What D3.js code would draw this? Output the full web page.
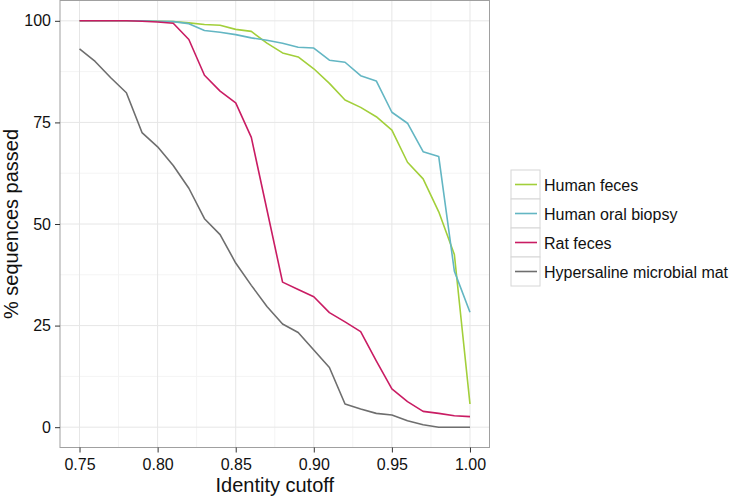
<!DOCTYPE html>
<html>
<head>
<meta charset="utf-8">
<script src="https://cdn.jsdelivr.net/npm/d3@7"></script>
<style>
  body { margin: 0; background: #fff; }
  text { font-family: "Liberation Sans", Arial, sans-serif; }
</style>
</head>
<body>
<svg id="chart" width="735" height="497"></svg>
<script>
// identity cutoffs 0.75 .. 1.00
const cutoffs = [0.75, 0.76, 0.77, 0.78, 0.79, 0.80, 0.81, 0.82, 0.83, 0.84, 0.85, 0.86, 0.87,
  0.88, 0.89, 0.90, 0.91, 0.92, 0.93, 0.94, 0.95, 0.96, 0.97, 0.98, 0.99, 1.00];

const human_feces = [100, 100, 100, 100, 100, 99.9, 99.8, 99.5, 99.1, 98.9, 97.9, 97.4, 94.5,
  92.1, 91.1, 88.2, 84.6, 80.5, 78.7, 76.4, 73.1, 65.2, 61.1, 53.0, 42.5, 5.7];
const human_oral = [100, 100, 100, 100, 100, 99.9, 99.8, 99.3, 97.6, 97.2, 96.6, 95.8, 95.2,
  94.5, 93.5, 93.3, 90.3, 89.8, 86.5, 85.2, 77.5, 74.8, 67.8, 66.6, 38.4, 28.3];
const rat_feces = [100, 100, 100, 100, 99.9, 99.7, 99.4, 95.4, 86.6, 82.7, 79.8, 71.3, 53.5,
  35.7, 33.9, 32.1, 28.2, 25.9, 23.5, 16.3, 9.4, 6.3, 3.9, 3.4, 2.8, 2.6];
const hypersaline = [93.1, 90.0, 86.0, 82.3, 72.5, 69.0, 64.4, 58.8, 51.3, 47.4, 40.4, 34.9, 29.7,
  25.4, 23.3, 19.0, 14.7, 5.7, 4.5, 3.4, 3.0, 1.6, 0.6, 0, 0, 0];

const series_names = ["Human feces", "Human oral biopsy", "Rat feces", "Hypersaline microbial mat"];
const series_values = [human_feces, human_oral, rat_feces, hypersaline];
const series_colors = ["#a2cf3a", "#63b6c3", "#c91c63", "#6e6e6e"];

const x_ticks = [0.75, 0.80, 0.85, 0.90, 0.95, 1.00];
const y_ticks = [0, 25, 50, 75, 100];

const svg = d3.select("svg#chart");
const panel = { left: 60, right: 489.5, top: 0.5, bottom: 447.5 };

// ggplot style expansion of 5%
const x = d3.scaleLinear().domain([0.7375, 1.0125]).range([panel.left, panel.right]);
const y = d3.scaleLinear().domain([-5, 105]).range([panel.bottom, panel.top]);

const grid = svg.append("g");
// minor grid
const x_minor = d3.range(0.775, 1.0, 0.05);
const y_minor = [12.5, 37.5, 62.5, 87.5];
grid.selectAll("line.xminor").data(x_minor).join("line")
  .attr("x1", d => x(d)).attr("x2", d => x(d))
  .attr("y1", panel.top).attr("y2", panel.bottom)
  .attr("stroke", "#f4f4f4").attr("stroke-width", 1);
grid.selectAll("line.yminor").data(y_minor).join("line")
  .attr("x1", panel.left).attr("x2", panel.right)
  .attr("y1", d => y(d)).attr("y2", d => y(d))
  .attr("stroke", "#f4f4f4").attr("stroke-width", 1);
// major grid
grid.selectAll("line.xmajor").data(x_ticks).join("line")
  .attr("x1", d => x(d)).attr("x2", d => x(d))
  .attr("y1", panel.top).attr("y2", panel.bottom)
  .attr("stroke", "#e6e6e6").attr("stroke-width", 1);
grid.selectAll("line.ymajor").data(y_ticks).join("line")
  .attr("x1", panel.left).attr("x2", panel.right)
  .attr("y1", d => y(d)).attr("y2", d => y(d))
  .attr("stroke", "#e6e6e6").attr("stroke-width", 1);

// lines
const line = d3.line()
  .x((d, i) => x(cutoffs[i]))
  .y(d => y(d));

svg.append("g").selectAll("path.series").data(series_values).join("path")
  .attr("class", "series")
  .attr("d", d => line(d))
  .attr("fill", "none")
  .attr("stroke", (d, i) => series_colors[i])
  .attr("stroke-width", 1.6)
  .attr("stroke-linejoin", "round");

// panel border
svg.append("rect")
  .attr("x", panel.left).attr("y", panel.top)
  .attr("width", panel.right - panel.left).attr("height", panel.bottom - panel.top)
  .attr("fill", "none").attr("stroke", "#a0a0a0").attr("stroke-width", 1);

// axes
const x_axis = d3.axisBottom(x).tickValues(x_ticks).tickFormat(d3.format(".2f"))
  .tickSize(5).tickPadding(6);
const y_axis = d3.axisLeft(y).tickValues(y_ticks).tickSize(5).tickPadding(4);

const gx = svg.append("g").attr("transform", `translate(0,${panel.bottom})`).call(x_axis);
const gy = svg.append("g").attr("transform", `translate(${panel.left},0)`).call(y_axis);
[gx, gy].forEach(g => {
  g.select(".domain").remove();
  g.selectAll(".tick line").attr("stroke", "#333");
  g.selectAll(".tick text").attr("fill", "#111").attr("font-size", 16)
    .attr("font-family", "Liberation Sans, Arial, sans-serif");
});

// axis titles
svg.append("text")
  .attr("x", (panel.left + panel.right) / 2).attr("y", 492)
  .attr("text-anchor", "middle").attr("font-size", 20).attr("fill", "#111")
  .text("Identity cutoff");
svg.append("text")
  .attr("transform", `translate(18,${(panel.top + panel.bottom) / 2}) rotate(-90)`)
  .attr("text-anchor", "middle").attr("font-size", 20).attr("fill", "#111")
  .text("% sequences passed");

// legend
const legend = svg.append("g").attr("transform", "translate(511,170)");
const key_h = 29, key_w = 29;
const rows = legend.selectAll("g.row").data(series_names).join("g")
  .attr("transform", (d, i) => `translate(0,${i * key_h})`);
rows.append("rect")
  .attr("x", 0).attr("y", 0).attr("width", key_w).attr("height", key_h)
  .attr("fill", "#fff").attr("stroke", "#d6d6d6").attr("stroke-width", 1);
rows.append("line")
  .attr("x1", 4).attr("x2", key_w - 3)
  .attr("y1", key_h / 2).attr("y2", key_h / 2)
  .attr("stroke", (d, i) => series_colors[i]).attr("stroke-width", 1.6);
rows.append("text")
  .attr("x", key_w + 4).attr("y", key_h / 2 + 6)
  .attr("font-size", 16).attr("fill", "#111")
  .text(d => d);
</script>
</body>
</html>
